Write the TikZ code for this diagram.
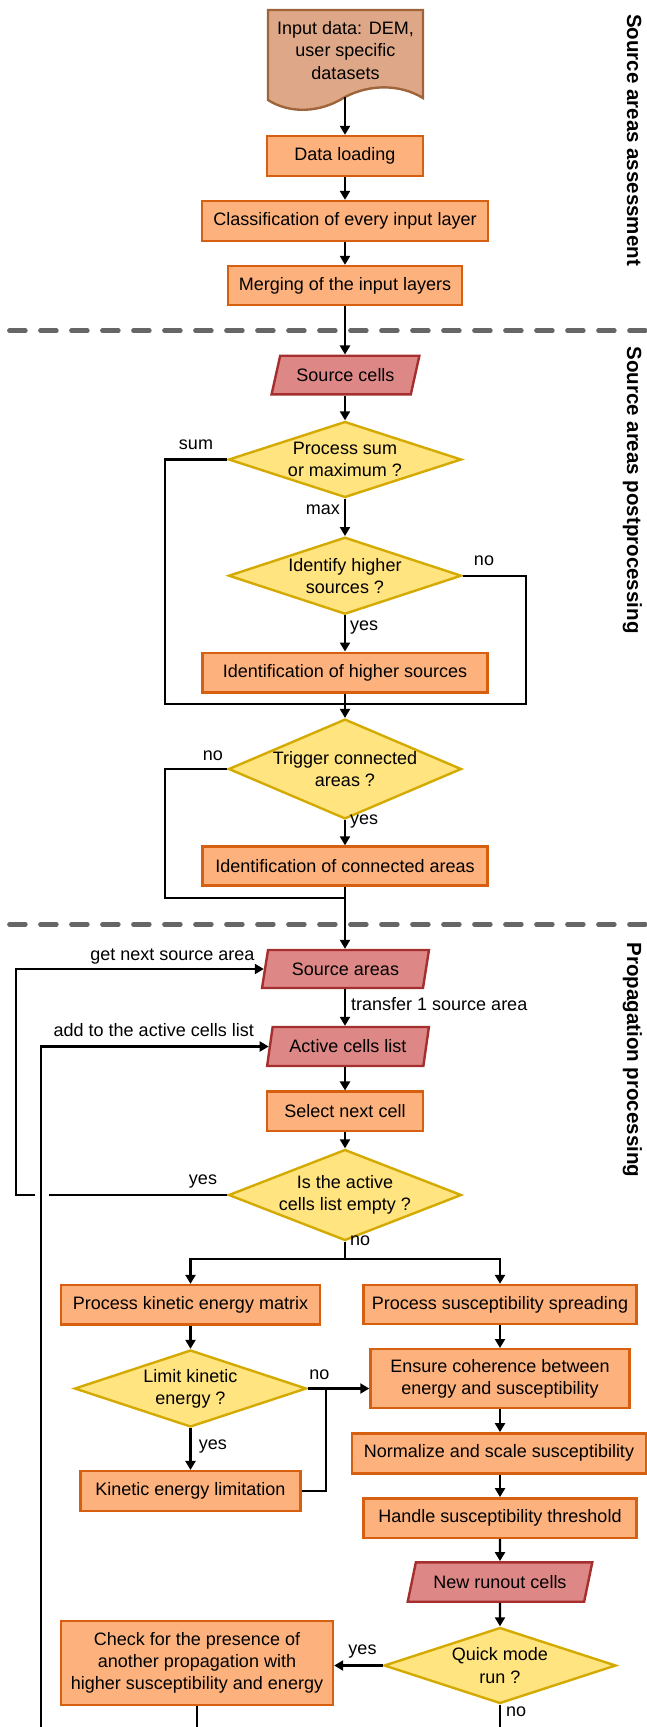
\documentclass[tikz,border=0pt]{standalone}
\usepackage{fontspec}
\setmainfont{Liberation Sans}
\usetikzlibrary{shapes.geometric,arrows.meta,calc}
\definecolor{boxfill}{HTML}{FDB27E}
\definecolor{boxdraw}{HTML}{D6600F}
\definecolor{diafill}{HTML}{FFE480}
\definecolor{diadraw}{HTML}{D4AA00}
\definecolor{parfill}{HTML}{DE8787}
\definecolor{pardraw}{HTML}{A52E2E}
\definecolor{docfill}{HTML}{DEA888}
\definecolor{docdraw}{HTML}{A0643A}
\definecolor{sepgray}{HTML}{666666}
\begin{document}
\begin{tikzpicture}[x=1pt,y=-1pt,
  every node/.style={font=\fontsize{18}{22.2}\selectfont},
  proc/.style={draw=boxdraw,fill=boxfill,line width=2.4pt,inner sep=0pt,align=center},
  dec/.style={shape=diamond,draw=diadraw,fill=diafill,line width=2.4pt,inner sep=-20pt,align=center},
  io/.style={trapezium,trapezium left angle=64,trapezium right angle=116,trapezium stretches=true,draw=pardraw,fill=parfill,line width=2.4pt,inner sep=0pt},
  ioflat/.style={io,trapezium left angle=72,trapezium right angle=108},
  conn/.style={line width=2.2pt,draw=black},
  arr/.style={conn,-{Triangle[length=9pt,width=10pt]}},
  lbl/.style={inner sep=0pt},
  sepline/.style={draw=sepgray,line width=4.5pt,dash pattern=on 16pt off 15pt,line cap=round},
  sidelbl/.style={font=\fontsize{20.5}{24}\selectfont\bfseries,rotate=-90,anchor=base,inner sep=0pt}
]
\useasboundingbox (0,0) rectangle (646,1727);

% separators
\coordinate (sepA1) at (9.4,330.7); \coordinate (sepA2) at (646,330.7);
\coordinate (sepB1) at (9.4,924.3); \coordinate (sepB2) at (646,924.3);
\draw[sepline] (sepA1) -- (sepA2);
\draw[sepline] (sepB1) -- (sepB2);

% side labels
\node[sidelbl] (s1) at (627,140) {Source areas assessment};
\node[sidelbl] (s2) at (627,490) {Source areas postprocessing};
\node[sidelbl] (s3) at (627,1060) {Propagation processing};

% input document
\draw[draw=docdraw,fill=docfill,line width=2.4pt] (268,10) -- (423,10) -- (423,98) .. controls (400,84) and (370,84) .. (345,97) .. controls (320,113) and (290,114) .. (268,100) -- cycle;
\node[align=center,inner sep=0pt] (doc) at (345.5,50.5) {Input data: DEM,\\user specific\\datasets};
\coordinate (docbot) at (345,97);

% nodes
\node[proc,minimum width=156pt,minimum height=40pt] (load) at (345,156) {Data loading};
\node[proc,minimum width=286pt,minimum height=40pt] (classify) at (345,221) {Classification of every input layer};
\node[proc,minimum width=234pt,minimum height=39pt] (merge) at (345,285.5) {Merging of the input layers};
\node[io,minimum width=148pt,minimum height=38.6pt] (srccells) at (345.5,375) {Source cells};
\node[dec,minimum width=233pt,minimum height=76pt] (procsum) at (345,459.5) {Process sum\\or maximum ?};
\node[dec,minimum width=233pt,minimum height=77pt] (idhigh) at (345,575.7) {Identify higher\\sources ?};
\node[proc,minimum width=285pt,minimum height=39.6pt] (idhighbox) at (345,672.5) {Identification of higher sources};
\node[dec,minimum width=233pt,minimum height=77pt] (trigger) at (345,769) {Trigger connected\\areas ?};
\node[proc,minimum width=285pt,minimum height=39pt] (idconn) at (345,866) {Identification of connected areas};
\node[ioflat,minimum width=167pt,minimum height=38pt] (srcareas) at (345.5,969) {Source areas};
\node[ioflat,minimum width=162pt,minimum height=39pt] (active) at (348,1046.5) {Active cells list};
\node[proc,minimum width=156pt,minimum height=39.3pt] (selnext) at (345,1111.3) {Select next cell};
\node[dec,minimum width=233pt,minimum height=77pt] (isempty) at (345,1195) {Is the active\\cells list empty ?};
\node[proc,minimum width=259pt,minimum height=39.3pt] (kinetic) at (190.5,1304.7) {Process kinetic energy matrix};
\node[proc,minimum width=273pt,minimum height=39pt] (suscept) at (500,1304.5) {Process susceptibility spreading};
\node[dec,minimum width=232pt,minimum height=77pt] (limit) at (190.5,1388.5) {Limit kinetic\\energy ?};
\node[proc,minimum width=220pt,minimum height=39.7pt] (kelim) at (190.5,1491) {Kinetic energy limitation};
\node[proc,minimum width=259pt,minimum height=59pt] (ensure) at (500,1378.7) {Ensure coherence between\\energy and susceptibility};
\node[proc,minimum width=294pt,minimum height=40pt] (normalize) at (499,1453.3) {Normalize and scale susceptibility};
\node[proc,minimum width=273pt,minimum height=39.4pt] (handle) at (500,1518) {Handle susceptibility threshold};
\node[io,minimum width=185pt,minimum height=39.4pt] (newrun) at (500,1582) {New runout cells};
\node[dec,minimum width=232pt,minimum height=76pt] (quick) at (500,1665.5) {Quick mode\\run ?};
\node[proc,minimum width=272pt,minimum height=84pt] (check) at (197,1663) {Check for the presence of\\another propagation with\\higher susceptibility and energy};

% labels
\node[lbl,anchor=mid] (lsum) at (196,447) {sum};
\node[lbl,anchor=mid east] (lmax) at (340,512) {max};
\node[lbl,anchor=mid] (lno1) at (484,563) {no};
\node[lbl,anchor=mid west] (lyes1) at (350,628) {yes};
\node[lbl,anchor=mid] (lno2) at (213,757.7) {no};
\node[lbl,anchor=mid west] (lyes2) at (350,821.7) {yes};
\node[lbl,anchor=mid east] (lnext) at (254.6,957.7) {get next source area};
\node[lbl,anchor=mid west] (ltransfer) at (351,1008.3) {transfer 1 source area};
\node[lbl,anchor=mid east] (ladd) at (254,1034.3) {add to the active cells list};
\node[lbl,anchor=mid] (lyes3) at (203,1181.7) {yes};
\node[lbl,anchor=mid west] (lno3) at (350,1243.3) {no};
\node[lbl,anchor=mid] (lno4) at (319.3,1376.7) {no};
\node[lbl,anchor=mid west] (lyes4) at (198.6,1447.3) {yes};
\node[lbl,anchor=mid] (lyes5) at (362.5,1652.3) {yes};
\node[lbl,anchor=mid west] (lno5) at (506,1714.3) {no};

% coordinates for bends
\coordinate (sumc) at (164.8,704.3);
\coordinate (j1) at (345,704.3);
\coordinate (noc) at (526,704.3);
\coordinate (c2) at (164.8,898.3);
\coordinate (j2) at (345,898.3);
\coordinate (gapR) at (48.6,1195);
\coordinate (gapL) at (35,1195);
\coordinate (loopc) at (15.7,1195);
\coordinate (botL) at (41.2,1727);
\coordinate (j3) at (345,1259.3);
\coordinate (j4) at (326.3,1388.5);
\coordinate (botC) at (197,1727);
\coordinate (botQ) at (500,1727);

% connectors
\draw[arr] (docbot) -- (load.north);
\draw[arr] (load.south) -- (classify.north);
\draw[arr] (classify.south) -- (merge.north);
\draw[arr] (merge.south) -- (merge.south |- srccells.north);
\draw[arr] (merge.south |- srccells.south) -- (procsum.north);
\draw[arr] (procsum.south) -- (idhigh.north);
\draw[arr] (idhigh.south) -- (idhighbox.north);
\draw[conn] (procsum.west) -| (sumc) -- (j1);
\draw[conn] (idhigh.east) -| (noc) -- (j1);
\draw[arr] (idhighbox.south) -- (trigger.north);
\draw[arr] (trigger.south) -- (idconn.north);
\draw[conn] (trigger.west) -| (c2) -- (j2);
\draw[arr] (idconn.south) -- (idconn.south |- srcareas.north);
\draw[arr] (idconn.south |- srcareas.south) -- (idconn.south |- active.north);
\draw[arr] (idconn.south |- active.south) -- (selnext.north);
\draw[arr] (selnext.south) -- (isempty.north);
\draw[conn] (isempty.west) -- (gapR);
\draw[arr] (gapL) -- (loopc) |- (srcareas.west);
\draw[arr] (botL) |- (active.west);
\draw[conn] (isempty.south) -- (j3);
\draw[arr] (j3) -| (kinetic.north);
\draw[arr] (j3) -| (suscept.north);
\draw[arr] (kinetic.south) -- (limit.north);
\draw[arr] (limit.south) -- (kelim.north);
\draw[arr] (limit.east) -- (limit.east -| ensure.west);
\draw[conn] (kelim.east) -| (j4);
\draw[arr] (suscept.south) -- (ensure.north);
\draw[arr] (ensure.south) -- (ensure.south |- normalize.north);
\draw[arr] (normalize.south -| handle.north) -- (handle.north);
\draw[arr] (handle.south) -- (newrun.north);
\draw[arr] (newrun.south) -- (quick.north);
\draw[arr] (quick.west) -- (quick.west -| check.east);
\draw[conn] (check.south) -- (botC);
\draw[conn] (quick.south) -- (botQ);
\end{tikzpicture}
\end{document}
